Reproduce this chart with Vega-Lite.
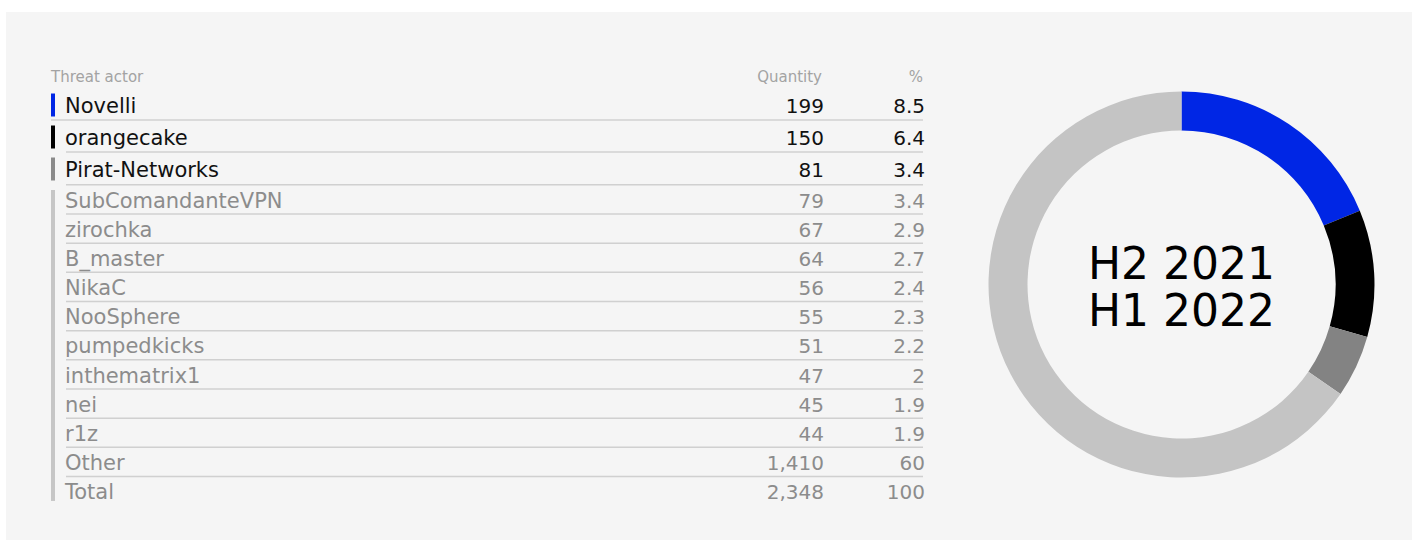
{
  "$schema": "https://vega.github.io/schema/vega-lite/v6.json",
  "background": "#ffffff",
  "padding": {"left": 6, "top": 12, "right": 4, "bottom": 0},
  "spacing": 0,
  "config": {
    "view": {"stroke": null, "fill": "#f5f5f5"},
    "concat": {"spacing": 0},
    "font": "DejaVu Sans",
    "text": {"font": "DejaVu Sans"}
  },
  "datasets": {
    "leaders": [
      {"actor": "Novelli", "quantity": 199, "share": "8.5"},
      {"actor": "orangecake", "quantity": 150, "share": "6.4"},
      {"actor": "Pirat-Networks", "quantity": 81, "share": "3.4"}
    ],
    "rest": [
      {"actor": "SubComandanteVPN", "quantity": 79, "share": "3.4"},
      {"actor": "zirochka", "quantity": 67, "share": "2.9"},
      {"actor": "B_master", "quantity": 64, "share": "2.7"},
      {"actor": "NikaC", "quantity": 56, "share": "2.4"},
      {"actor": "NooSphere", "quantity": 55, "share": "2.3"},
      {"actor": "pumpedkicks", "quantity": 51, "share": "2.2"},
      {"actor": "inthematrix1", "quantity": 47, "share": "2"},
      {"actor": "nei", "quantity": 45, "share": "1.9"},
      {"actor": "r1z", "quantity": 44, "share": "1.9"},
      {"actor": "Other", "quantity": 1410, "share": "60"},
      {"actor": "Total", "quantity": 2348, "share": "100"}
    ],
    "columns": [{"column": "Threat actor"}, {"column": "Quantity"}, {"column": "%"}],
    "ring": [
      {"segment": "Novelli", "share": 18.75, "rank": 1},
      {"segment": "orangecake", "share": 10.63, "rank": 2},
      {"segment": "Pirat-Networks", "share": 5.21, "rank": 3},
      {"segment": "Other", "share": 65.41, "rank": 4}
    ],
    "period": [{"label": "H2 2021\nH1 2022"}]
  },
  "resolve": {"scale": {"color": "independent"}},
  "hconcat": [
    {
      "spacing": 0,
      "vconcat": [
        {
          "width": 945,
          "height": 172,
          "layer": [
            {
              "data": {"name": "columns"},
              "transform": [{"filter": "datum.column === 'Threat actor'"}],
              "mark": {"type": "text", "align": "left", "baseline": "alphabetic", "fontSize": 15, "color": "#a3a3a3", "dy": 9.7},
              "encoding": {
                "x": {"value": 45},
                "y": {"datum": "Threat actor", "type": "nominal", "axis": null,
                      "scale": {"type": "band", "domain": ["Threat actor", "Novelli", "orangecake", "Pirat-Networks"], "paddingInner": 0, "paddingOuter": 0.6875, "align": 1}},
                "text": {"field": "column", "type": "nominal"}
              }
            },
            {
              "data": {"name": "columns"},
              "transform": [{"filter": "datum.column === 'Quantity'"}],
              "mark": {"type": "text", "align": "right", "baseline": "alphabetic", "fontSize": 15, "color": "#a3a3a3", "dy": 9.7},
              "encoding": {
                "x": {"value": 816},
                "y": {"datum": "Threat actor", "type": "nominal", "axis": null},
                "text": {"field": "column", "type": "nominal"}
              }
            },
            {
              "data": {"name": "columns"},
              "transform": [{"filter": "datum.column === '%'"}],
              "mark": {"type": "text", "align": "right", "baseline": "alphabetic", "fontSize": 15, "color": "#a3a3a3", "dy": 9.7},
              "encoding": {
                "x": {"value": 917},
                "y": {"datum": "Threat actor", "type": "nominal", "axis": null},
                "text": {"field": "column", "type": "nominal"}
              }
            },
            {
              "data": {"name": "leaders"},
              "transform": [{"filter": "datum.actor === 'Novelli'"}],
              "mark": {"type": "rule", "color": "#d0d0d0", "strokeWidth": 1.5},
              "encoding": {
                "x": {"value": 45},
                "x2": {"value": 917},
                "y": {"field": "actor", "type": "nominal", "bandPosition": 1, "axis": null}
              }
            },
            {
              "data": {"name": "leaders"},
              "transform": [{"filter": "datum.actor === 'orangecake'"}],
              "mark": {"type": "rule", "color": "#d0d0d0", "strokeWidth": 1.5},
              "encoding": {
                "x": {"value": 60},
                "x2": {"value": 917},
                "y": {"field": "actor", "type": "nominal", "bandPosition": 1, "axis": null}
              }
            },
            {
              "data": {"name": "leaders"},
              "mark": {"type": "tick", "orient": "vertical", "size": 23, "thickness": 4, "opacity": 1, "yOffset": 1},
              "encoding": {
                "x": {"value": 47},
                "y": {"field": "actor", "type": "nominal", "axis": null},
                "color": {"field": "actor", "type": "nominal", "legend": null,
                          "scale": {"domain": ["Novelli", "orangecake", "Pirat-Networks"], "range": ["#0026e5", "#000000", "#8a8a8a"]}}
              }
            },
            {
              "data": {"name": "leaders"},
              "mark": {"type": "text", "align": "left", "baseline": "alphabetic", "fontSize": 21, "color": "#111111", "dy": 9},
              "encoding": {
                "x": {"value": 59},
                "y": {"field": "actor", "type": "nominal", "axis": null},
                "text": {"field": "actor", "type": "nominal"}
              }
            },
            {
              "data": {"name": "leaders"},
              "mark": {"type": "text", "align": "right", "baseline": "alphabetic", "fontSize": 20, "color": "#111111", "dy": 9},
              "encoding": {
                "x": {"value": 818},
                "y": {"field": "actor", "type": "nominal", "axis": null},
                "text": {"field": "quantity", "type": "quantitative", "format": ","}
              }
            },
            {
              "data": {"name": "leaders"},
              "mark": {"type": "text", "align": "right", "baseline": "alphabetic", "fontSize": 20, "color": "#111111", "dy": 9},
              "encoding": {
                "x": {"value": 919},
                "y": {"field": "actor", "type": "nominal", "axis": null},
                "text": {"field": "share", "type": "nominal"}
              }
            }
          ]
        },
        {
          "width": 945,
          "height": 356,
          "data": {"name": "rest"},
          "layer": [
            {
              "mark": {"type": "rule", "color": "#d0d0d0", "strokeWidth": 1.5, "yOffset": 0.8},
              "encoding": {
                "x": {"value": 60},
                "x2": {"value": 917},
                "y": {"field": "actor", "type": "nominal", "bandPosition": 0, "axis": null,
                      "scale": {"type": "band", "domain": ["SubComandanteVPN", "zirochka", "B_master", "NikaC", "NooSphere", "pumpedkicks", "inthematrix1", "nei", "r1z", "Other", "Total"], "paddingInner": 0, "paddingOuter": 0.6016, "align": 0}}
              }
            },
            {
              "mark": {"type": "rule", "color": "#c6c6c6", "strokeWidth": 4, "yOffset": 6, "y2Offset": -4.6},
              "encoding": {
                "x": {"value": 47},
                "y": {"datum": "SubComandanteVPN", "type": "nominal", "bandPosition": 0, "axis": null},
                "y2": {"datum": "Total", "bandPosition": 1}
              }
            },
            {
              "mark": {"type": "text", "align": "left", "baseline": "alphabetic", "fontSize": 21, "color": "#8c8c8c", "dy": 9},
              "encoding": {
                "x": {"value": 59},
                "y": {"field": "actor", "type": "nominal", "axis": null},
                "text": {"field": "actor", "type": "nominal"}
              }
            },
            {
              "mark": {"type": "text", "align": "right", "baseline": "alphabetic", "fontSize": 20, "color": "#8c8c8c", "dy": 9},
              "encoding": {
                "x": {"value": 818},
                "y": {"field": "actor", "type": "nominal", "axis": null},
                "text": {"field": "quantity", "type": "quantitative", "format": ","}
              }
            },
            {
              "mark": {"type": "text", "align": "right", "baseline": "alphabetic", "fontSize": 20, "color": "#8c8c8c", "dy": 9},
              "encoding": {
                "x": {"value": 919},
                "y": {"field": "actor", "type": "nominal", "axis": null},
                "text": {"field": "share", "type": "nominal"}
              }
            }
          ]
        }
      ]
    },
    {
      "width": 461,
      "height": 528,
      "view": {"fill": "#f5f5f5", "stroke": null},
      "layer": [
        {
          "data": {"name": "ring"},
          "mark": {"type": "arc", "radius": 193, "radius2": 154, "yOffset": 8.5},
          "encoding": {
            "theta": {"field": "share", "type": "quantitative", "stack": true},
            "order": {"field": "rank", "type": "quantitative"},
            "color": {"field": "segment", "type": "nominal", "legend": null,
                      "scale": {"domain": ["Novelli", "orangecake", "Pirat-Networks", "Other"], "range": ["#0026e5", "#000000", "#838383", "#c4c4c4"]}}
          }
        },
        {
          "data": {"name": "period"},
          "mark": {"type": "text", "align": "center", "baseline": "alphabetic", "fontSize": 44, "lineBreak": "\n", "lineHeight": 47, "color": "#000000", "dy": 3.3},
          "encoding": {
            "x": {"field": "label", "type": "nominal", "axis": null, "scale": {"type": "point"}},
            "y": {"field": "label", "type": "nominal", "axis": null, "scale": {"type": "point"}},
            "text": {"field": "label", "type": "nominal"}
          }
        }
      ]
    }
  ]
}
